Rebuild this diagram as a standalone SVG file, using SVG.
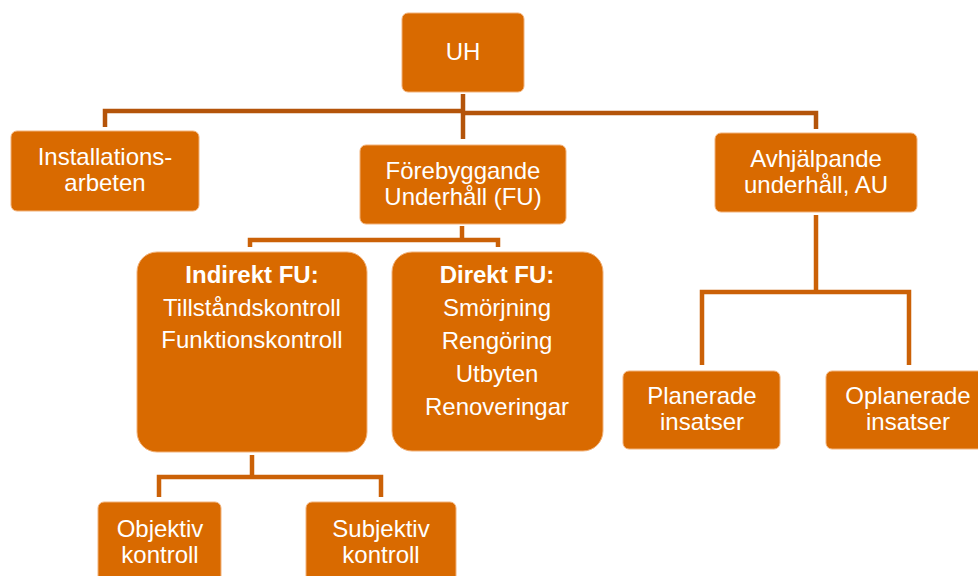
<svg xmlns="http://www.w3.org/2000/svg" width="978" height="576" viewBox="0 0 978 576">
<style>
.box{fill:#D96A00;stroke:#F2B27A;stroke-width:1}
.t{font-family:"Liberation Sans",Arial,sans-serif;font-size:24px;fill:#FFFFFF;text-anchor:middle}
.s{font-size:23px}
.b{font-weight:bold}
.c1{fill:none;stroke:#B4540A;stroke-width:4.5}
.c2{fill:none;stroke:#CB6107;stroke-width:4.5}
</style>
<rect width="978" height="576" fill="#FFFFFF"/>
<g id="connectors">
<path class="c1" d="M463 94 V139"/>
<path class="c1" d="M105 127 V111 H463"/>
<path class="c1" d="M463 113 H816 V129"/>
<path class="c2" d="M462 226 V240"/>
<path class="c2" d="M250 247 V240 H498 V247"/>
<path class="c2" d="M816 215 V292"/>
<path class="c2" d="M702 365 V292 H909 V365"/>
<path class="c2" d="M252 455 V477"/>
<path class="c2" d="M159 497 V477 H381 V497"/>
</g>
<g id="uh">
<rect class="box" x="402" y="13" width="122" height="79" rx="6"/>
<text class="t" x="463" y="60">UH</text>
</g>
<g id="installationsarbeten">
<rect class="box" x="11" y="131" width="188" height="80" rx="6"/>
<text class="t" x="105" y="165">Installations-</text>
<text class="t" x="105" y="191">arbeten</text>
</g>
<g id="forebyggande">
<rect class="box" x="360" y="145" width="206" height="79" rx="6"/>
<text class="t" x="463" y="179">Förebyggande</text>
<text class="t" x="463" y="205">Underhåll (FU)</text>
</g>
<g id="avhjalpande">
<rect class="box" x="715" y="133" width="202" height="79" rx="6"/>
<text class="t" x="816" y="167">Avhjälpande</text>
<text class="t" x="816" y="193">underhåll, AU</text>
</g>
<g id="indirekt">
<rect class="box" x="137" y="252" width="230" height="200" rx="20"/>
<text class="t b" x="252" y="283">Indirekt FU:</text>
<text class="t" x="252" y="316">Tillståndskontroll</text>
<text class="t" x="252" y="348">Funktionskontroll</text>
</g>
<g id="direkt">
<rect class="box" x="392" y="252" width="211" height="199" rx="20"/>
<text class="t b" x="497" y="283">Direkt FU:</text>
<text class="t" x="497" y="316">Smörjning</text>
<text class="t" x="497" y="349">Rengöring</text>
<text class="t" x="497" y="382">Utbyten</text>
<text class="t" x="497" y="415">Renoveringar</text>
</g>
<g id="planerade">
<rect class="box" x="623" y="371" width="157" height="78" rx="6"/>
<text class="t" x="702" y="404">Planerade</text>
<text class="t" x="702" y="430">insatser</text>
</g>
<g id="oplanerade">
<rect class="box" x="826" y="371" width="164" height="78" rx="6"/>
<text class="t" x="908" y="404">Oplanerade</text>
<text class="t" x="908" y="430">insatser</text>
</g>
<g id="objektiv">
<rect class="box" x="98" y="502" width="123" height="80" rx="6"/>
<text class="t" x="160" y="537">Objektiv</text>
<text class="t" x="160" y="563">kontroll</text>
</g>
<g id="subjektiv">
<rect class="box" x="306" y="502" width="150" height="80" rx="6"/>
<text class="t" x="381" y="537">Subjektiv</text>
<text class="t" x="381" y="563">kontroll</text>
</g>
</svg>
